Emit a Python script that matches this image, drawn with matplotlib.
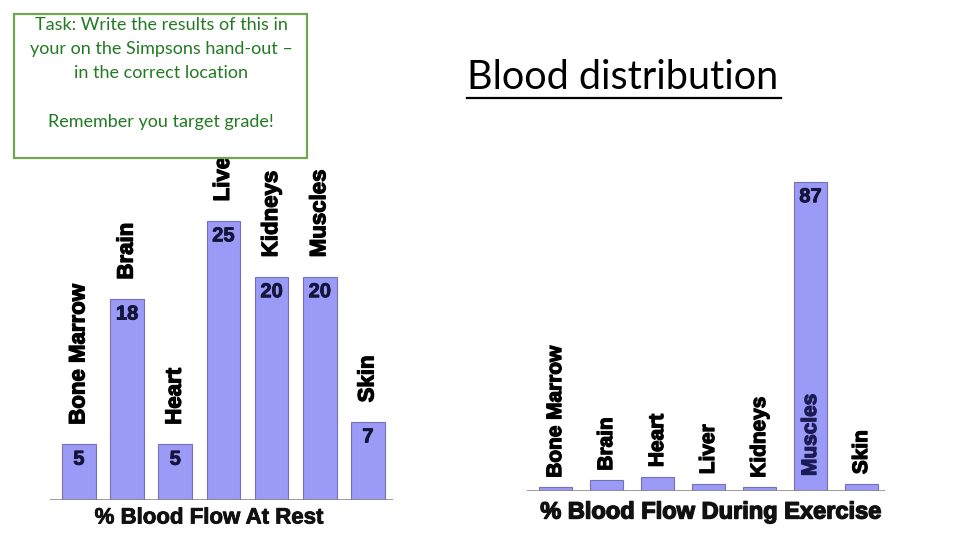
import matplotlib
matplotlib.use("Agg")
import matplotlib.pyplot as plt
import matplotlib.patheffects as pe
from matplotlib.lines import Line2D
from matplotlib.patches import Rectangle

organs = ["Bone Marrow", "Brain", "Heart", "Liver", "Kidneys", "Muscles", "Skin"]
rest_values = [5, 18, 5, 25, 20, 20, 7]
exercise_values = [1, 3, 4, 2, 1, 87, 2]
rest_title = "% Blood Flow At Rest"
exercise_title = "% Blood Flow During Exercise"
slide_title = "Blood distribution"
task_lines = ["Task: Write the results of this in",
              "your on the Simpsons hand-out \u2013",
              "in the correct location"]
reminder = "Remember you target grade!"

W, H = 960, 540
fig = plt.figure(figsize=(W / 100, H / 100), dpi=100)
fig.patch.set_facecolor("white")

BAR = "#9b9bf7"
EDGE = "#7272b8"
NUM = "#15153a"
BOLD_FONT = ["Liberation Sans", "DejaVu Sans"]


def heavy(color, w=0.9):
    return [pe.withStroke(linewidth=w, foreground=color)]


def px_axes(x0, x1, ybase, ytop):
    return fig.add_axes([x0 / W, 1 - ybase / H, (x1 - x0) / W, (ybase - ytop) / H])


# ---------- left chart: at rest ----------
axL = px_axes(50, 393, 500, 165)
xs = list(range(len(organs)))
axL.bar(xs, rest_values, width=0.70, color=BAR, edgecolor=EDGE, linewidth=0.8, zorder=2)
axL.set_xlim(-0.6, 6.52)
axL.set_ylim(0, 30)
axL.axis("off")
axL.axhline(0, color="#8a8a8a", lw=1.2, zorder=3)
for x, v, name in zip(xs, rest_values, organs):
    axL.annotate(name, (x, v), xytext=(0, 14), textcoords="offset points",
                 rotation=90, ha="center", va="bottom", fontsize=16,
                 fontweight="bold", family=BOLD_FONT, color="black",
                 annotation_clip=False, path_effects=heavy("black"))
    axL.annotate(str(v), (x, v), xytext=(0, -4), textcoords="offset points",
                 ha="center", va="top", fontsize=14.5, fontweight="bold",
                 family=BOLD_FONT, color=NUM, path_effects=heavy(NUM, 0.6))
fig.text(209 / W, 1 - 518 / H, rest_title, ha="center", va="center",
         fontsize=16, fontweight="bold", family=BOLD_FONT, color="#111111",
         path_effects=heavy("#111111", 0.6))

# ---------- right chart: exercise ----------
axR = px_axes(527, 885, 491, 171)
axR.bar(xs, exercise_values, width=0.65, color=BAR, edgecolor=EDGE, linewidth=0.8, zorder=2)
axR.set_xlim(-0.56, 6.46)
axR.set_ylim(0, 90)
axR.axis("off")
axR.axhline(0, color="#8a8a8a", lw=1.2, zorder=3)
for x, v, name in zip(xs, exercise_values, organs):
    inside = v > 20
    base = 1.5 if inside else v
    col = "#1b1b55" if inside else "black"
    axR.annotate(name, (x, base), xytext=(0, 7), textcoords="offset points",
                 rotation=90, ha="center", va="bottom", fontsize=15,
                 fontweight="bold", family=BOLD_FONT, color=col, zorder=4,
                 path_effects=heavy(col))
    if inside:
        axR.annotate(str(v), (x, v), xytext=(0, -4), textcoords="offset points",
                     ha="center", va="top", fontsize=14.5, fontweight="bold",
                     family=BOLD_FONT, color=NUM, path_effects=heavy(NUM, 0.6))
fig.text(711 / W, 1 - 512 / H, exercise_title, ha="center", va="center",
         fontsize=17, fontweight="bold", family=BOLD_FONT, color="#111111",
         path_effects=heavy("#111111", 1.0))

# ---------- task box ----------
box = Rectangle((14 / W, 1 - 158 / H), (307 - 14) / W, (158 - 14) / H,
                transform=fig.transFigure, facecolor="white",
                edgecolor="#72a552", linewidth=1.6, zorder=10)
fig.add_artist(box)
GREEN = "#237a23"
for i, line in enumerate(task_lines):
    fig.text(161 / W, 1 - (25 + 24 * i) / H, line, ha="center", va="center",
             fontsize=13, family=["Lato", "DejaVu Sans"], color=GREEN, zorder=11)
fig.text(161 / W, 1 - 122 / H, reminder, ha="center", va="center",
         fontsize=13, family=["Lato", "DejaVu Sans"], color=GREEN, zorder=11)

# ---------- slide title ----------
fig.text(467 / W, 1 - 89 / H, slide_title, ha="left", va="baseline",
         fontsize=28.5, fontweight="normal", family=["Lato", "DejaVu Sans"], color="black")
fig.add_artist(Line2D([467 / W, 781 / W], [1 - 98 / H, 1 - 98 / H],
                      transform=fig.transFigure, color="black", lw=1.6))

fig.savefig("out.png", dpi=100, facecolor="white")
